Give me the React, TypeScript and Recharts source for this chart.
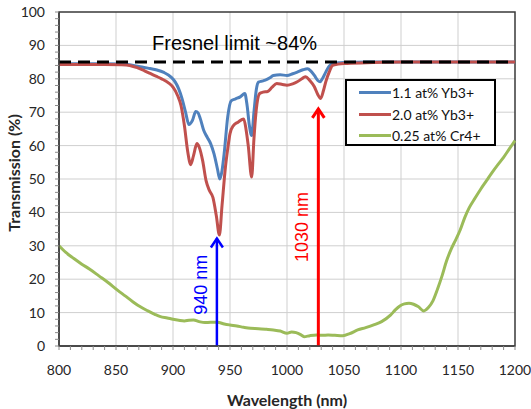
import React from "react";
import {
  LineChart, Line, XAxis, YAxis, CartesianGrid, ReferenceLine, ReferenceArea, Legend,
} from "recharts";

// 1.1 at% Yb3+
const YB11_NM = [800, 820, 840, 855, 862, 870, 878, 885, 892, 898, 902, 905, 908, 911, 914, 917, 920, 922, 924, 927, 930, 933, 936, 939, 941, 943, 945, 948, 951, 955, 959, 963, 965, 967, 969, 971, 973, 975, 978, 981, 985, 988, 994, 1000, 1005, 1009, 1014, 1018, 1021, 1024, 1027, 1029, 1031, 1034, 1037, 1040, 1045, 1050, 1070, 1100, 1150, 1200];
const YB11_T = [84.5, 84.5, 84.5, 84.4, 84.2, 83.7, 83.2, 82.7, 81.9, 80.6, 79, 77, 74, 70, 66.3, 67.5, 70.2, 69.8, 68, 64.5, 62.5, 60.6, 57.5, 53, 50, 52.5, 58, 68.6, 73.4, 74, 74.6, 75.6, 72, 66, 63, 70, 76.6, 79, 79.3, 79.6, 80.3, 81, 81.2, 81, 81.5, 82, 82.7, 83, 82.3, 81, 79.5, 79.1, 80, 82, 83.8, 84.5, 84.8, 84.9, 85, 85, 85, 85];

// 2.0 at% Yb3+
const YB20_NM = [800, 820, 840, 855, 862, 868, 875, 880, 885, 890, 896, 900, 904, 907, 910, 913, 915.5, 918, 921, 923, 926, 929, 932, 935, 938, 940.7, 943, 946, 948, 950, 953, 957, 962, 964, 966, 969, 971, 973, 976, 979, 983, 987, 991, 996, 1000, 1005, 1009, 1013, 1016, 1020, 1024, 1027, 1029.5, 1032, 1034, 1037, 1040, 1045, 1050, 1070, 1100, 1150, 1200];
const YB20_T = [84.3, 84.3, 84.3, 84.2, 84, 83.4, 82.4, 81.6, 80.8, 80, 78.8, 77.5, 75, 72, 66, 58, 54.3, 57, 60.6, 59.5, 55.5, 49.5, 46.5, 44.5, 39, 33.2, 42, 53.6, 59, 63.6, 66, 67, 68, 65, 60, 50.6, 62, 70.6, 75.6, 76, 76.2, 77.5, 78.6, 78.3, 78.1, 78.5, 79.1, 80, 80.6, 79.5, 77.6, 75.3, 74.1, 76.5, 79.1, 82, 84, 84.4, 84.6, 84.8, 85, 85, 85];

// 0.25 at% Cr4+
const CR_NM = [800, 806, 813, 820, 827, 835, 843, 851, 858, 865, 871, 878, 884, 889, 895, 900, 905, 910, 914, 918, 923, 928, 933, 939, 945, 950, 956, 962, 968, 975, 982, 988, 994, 1000, 1004, 1008, 1012, 1015, 1020, 1026, 1031, 1036, 1042, 1049, 1055, 1062, 1069, 1076, 1083, 1091, 1095, 1099, 1103, 1107, 1111, 1115, 1120, 1124, 1128, 1132, 1136, 1140, 1144, 1148, 1152, 1156, 1160, 1165, 1170, 1175, 1180, 1185, 1190, 1195, 1200];
const CR_T = [30, 28, 26.2, 24.5, 23, 21, 19, 16.8, 15, 13.2, 11.8, 10.5, 9.5, 8.8, 8.4, 8, 7.7, 7.5, 7.7, 7.8, 7.3, 7, 7.1, 7.1, 6.6, 6.3, 6, 5.6, 5.3, 5.2, 5, 4.8, 4.5, 3.8, 4.2, 4, 3.4, 2.8, 3.1, 3.3, 3.2, 3.3, 3.2, 3.1, 3.7, 4.8, 5.5, 6.3, 7.3, 9.3, 10.8, 12, 12.6, 12.8, 12.5, 11.8, 10.5, 11.5, 13.5, 17, 21, 25.5, 29, 31.8, 34.8, 38.5, 41.5, 44.3, 47, 49.5, 52, 54.3, 56.5, 59, 61.5];

// Fresnel limit
const FRESNEL_NM = [800, 1200];
const FRESNEL_T = [85, 85];

// arrows: wavelength, tip transmission
const ARROW_940 = { nm: 938.5, t: 32.5 };
const ARROW_1030 = { nm: 1027.5, t: 71.3 };

const X_TICKS = [800, 810, 820, 830, 840, 850, 860, 870, 880, 890, 900, 910, 920, 930, 940, 950, 960, 970, 980, 990, 1000, 1010, 1020, 1030, 1040, 1050, 1060, 1070, 1080, 1090, 1100, 1110, 1120, 1130, 1140, 1150, 1160, 1170, 1180, 1190, 1200];
const X_GRID = [850, 900, 950, 1000, 1050, 1100, 1150];
const Y_TICKS = [0, 2, 4, 6, 8, 10, 12, 14, 16, 18, 20, 22, 24, 26, 28, 30, 32, 34, 36, 38, 40, 42, 44, 46, 48, 50, 52, 54, 56, 58, 60, 62, 64, 66, 68, 70, 72, 74, 76, 78, 80, 82, 84, 86, 88, 90, 92, 94, 96, 98, 100];
const Y_GRID = [10, 20, 30, 40, 50, 60, 70, 80, 90];

const SERIES = [
  { name: "1.1 at% Yb3+", color: "#4F81BD" },
  { name: "2.0 at% Yb3+", color: "#C0504D" },
  { name: "0.25 at% Cr4+", color: "#9BBB59" },
];

const toRows = (nm: number[], t: number[]) => nm.map((x, i) => ({ nm: x, t: t[i] }));

const yb11Data = toRows(YB11_NM, YB11_T);
const yb20Data = toRows(YB20_NM, YB20_T);
const crData = toRows(CR_NM, CR_T);
const fresnelData = toRows(FRESNEL_NM, FRESNEL_T);

const tickFont = { fontSize: 14, fill: "#262626", fontFamily: "Lato" };

// eslint-disable-next-line @typescript-eslint/no-explicit-any
const arrowShape = (color: string, text: string, width: number, dy: number) => (p: any) => {
  const { x1, y1, x2, y2 } = p;
  const cy = (y1 + y2) / 2 + dy;
  const tx = x2 - 16;
  return (
    <g>
      <line x1={x1} y1={y1} x2={x2} y2={y2 + 1} stroke={color} strokeWidth={width} />
      <polyline
        points={`${x2 - 6},${y2 + 10} ${x2},${y2 + 1} ${x2 + 6},${y2 + 10}`}
        fill="none" stroke={color} strokeWidth={width}
      />
      <text
        x={tx} y={cy} fill={color} fontSize={18} fontFamily="Liberation Sans, Arial"
        textAnchor="middle" dominantBaseline="central" transform={`rotate(-90 ${tx} ${cy})`}
      >
        {text}
      </text>
    </g>
  );
};

const LegendBox = () => (
  <div style={{
    border: "2px solid #000", background: "#fff", boxSizing: "border-box",
    width: 151, height: 67, paddingTop: 1, paddingLeft: 12,
    fontFamily: "Lato", fontSize: 14, color: "#111",
  }}>
    {SERIES.map((s) => (
      <div key={s.name} style={{ display: "flex", alignItems: "center", height: 21.5 }}>
        <div style={{ width: 32, height: 3, background: s.color, marginRight: 1 }} />
        <span>{s.name}</span>
      </div>
    ))}
  </div>
);

export default function App() {
  return (
    <div style={{ position: "absolute", left: 0, top: 0, width: 531, height: 409, background: "#fff" }}>
      <LineChart width={531} height={409} margin={{ top: 12, right: 16, left: 0, bottom: 0 }}>
        <CartesianGrid stroke="#cfcfcf" verticalValues={X_GRID} horizontalValues={Y_GRID} />
        <XAxis
          dataKey="nm" type="number" domain={[800, 1200]} ticks={X_TICKS} interval={0}
          tickFormatter={(v: number) => (v % 50 === 0 ? String(v) : "")}
          tick={tickFont} tickSize={4} tickMargin={15} height={63}
          axisLine={{ stroke: "#404040", strokeWidth: 1.5 }} tickLine={{ stroke: "#8a8a8a" }}
          label={({ viewBox }: any) => (
            <text x={viewBox.x + viewBox.width / 2} y={viewBox.y + 53} textAnchor="middle"
              dominantBaseline="central" fontFamily="Lato" fontWeight="bold" fontSize={16} fill="#262626">
              Wavelength (nm)
            </text>
          )}
        />
        <YAxis
          type="number" domain={[0, 100]} ticks={Y_TICKS} interval={0}
          tickFormatter={(v: number) => (v % 10 === 0 ? String(v) : "")}
          tick={tickFont} tickSize={4} tickMargin={10} width={59}
          axisLine={{ stroke: "#404040", strokeWidth: 1.5 }} tickLine={{ stroke: "#8a8a8a" }}
          label={({ viewBox }: any) => {
            const cx = viewBox.x + 13;
            const cy = viewBox.y + viewBox.height / 2 - 6;
            return (
              <text x={cx} y={cy} textAnchor="middle" dominantBaseline="central" transform={`rotate(-90 ${cx} ${cy})`}
                fontFamily="Lato" fontWeight="bold" fontSize={16} fill="#262626">
                Transmission (%)
              </text>
            );
          }}
        />
        <ReferenceArea x1={800} x2={1200} y1={0} y2={100} fill="none" fillOpacity={0} stroke="#3a3a3a" strokeWidth={1.5} />
        <ReferenceLine
          y={85} stroke="none"
          label={({ viewBox }: any) => (
            <text x={viewBox.x + 93} y={viewBox.y - 12} fontFamily="Liberation Sans, Arial" fontSize={20} fill="#000">
              Fresnel limit ~84%
            </text>
          )}
        />
        <Line data={crData} dataKey="t" name={SERIES[2].name} stroke={SERIES[2].color} strokeWidth={3}
          dot={false} type="monotone" isAnimationActive={false} legendType="none" />
        <Line data={yb11Data} dataKey="t" name={SERIES[0].name} stroke={SERIES[0].color} strokeWidth={3}
          dot={false} type="monotone" isAnimationActive={false} legendType="none" />
        <Line data={yb20Data} dataKey="t" name={SERIES[1].name} stroke={SERIES[1].color} strokeWidth={3}
          dot={false} type="monotone" isAnimationActive={false} legendType="none" />
        <Line data={fresnelData} dataKey="t" stroke="#000" strokeWidth={3} strokeDasharray="12 7"
          dot={false} type="linear" isAnimationActive={false} legendType="none" />
        <ReferenceLine
          segment={[{ x: ARROW_940.nm, y: 0 }, { x: ARROW_940.nm, y: ARROW_940.t }]}
          shape={arrowShape("#0000ff", "940 nm", 2.5, -7)}
        />
        <ReferenceLine
          segment={[{ x: ARROW_1030.nm, y: 0 }, { x: ARROW_1030.nm, y: ARROW_1030.t }]}
          shape={arrowShape("#ff0000", "1030 nm", 3, 0)}
        />
        <Legend
          layout="vertical" align="center" verticalAlign="middle"
          wrapperStyle={{ left: 345, top: 79, width: 151, height: 67 }}
          content={() => <LegendBox />}
        />
      </LineChart>
    </div>
  );
}
